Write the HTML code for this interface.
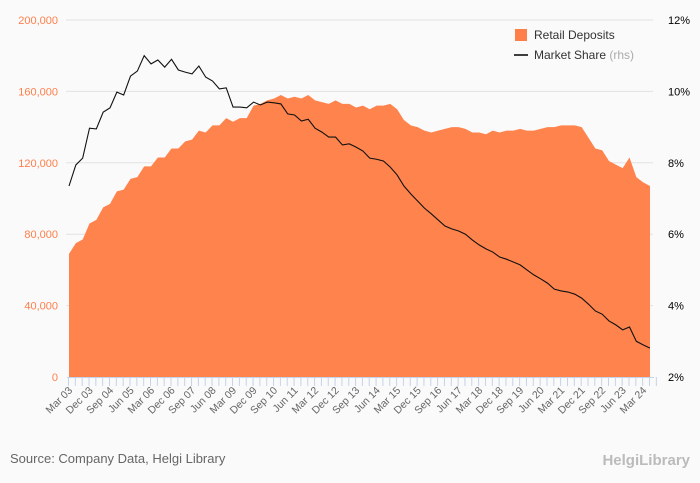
<!DOCTYPE html>
<html><head><meta charset="utf-8"><style>
body{margin:0;background:#fafafa;font-family:"Liberation Sans",sans-serif;}
svg{display:block}
</style></head><body>
<svg width="700" height="483" id="c">
<rect width="700" height="483" fill="#fafafa"/>
<g id="grid"></g><g id="area"></g><g id="line"></g><g id="axes"></g>
<g>
<rect x="515" y="29" width="12" height="12" fill="#ff7f4a"/>
<text x="534" y="39" font-size="12" fill="#333">Retail Deposits</text>
<line x1="514" y1="55" x2="528" y2="55" stroke="#000" stroke-width="1.5"/>
<text x="534" y="59" font-size="12" fill="#333">Market Share <tspan fill="#aaa">(rhs)</tspan></text>
</g>
<text x="10" y="463" font-size="13" fill="#666">Source: Company Data, Helgi Library</text>
<text x="690" y="465" font-size="15" fill="#bbb" text-anchor="end" font-weight="bold">HelgiLibrary</text>
</svg>
<script>
const quarters=["Mar","Jun","Sep","Dec"];
const deposits=[69000,75000,77000,86000,88000,95000,97000,104000,105000,111000,112000,118000,118000,123000,123000,128000,128000,132000,133000,138000,137000,141000,141000,145000,143000,145000,145000,152000,153000,155000,156000,158000,156000,157000,156000,158000,155000,154000,153000,155000,153000,153000,151000,152000,150000,152000,152000,153000,150000,144000,141000,140000,138000,137000,138000,139000,140000,140000,139000,137000,137000,136000,138000,137000,138000,138000,139000,138000,138000,139000,140000,140000,141000,141000,141000,140000,134000,128000,127000,121000,119000,117000,123000,112000,109000,107000];
const share=[7.35,7.94,8.13,8.97,8.95,9.42,9.54,9.98,9.9,10.43,10.57,11.0,10.77,10.88,10.68,10.9,10.6,10.54,10.49,10.71,10.4,10.29,10.07,10.1,9.56,9.56,9.54,9.7,9.62,9.7,9.68,9.65,9.37,9.34,9.17,9.22,8.97,8.86,8.72,8.72,8.5,8.53,8.44,8.33,8.13,8.1,8.05,7.88,7.66,7.35,7.13,6.93,6.73,6.57,6.4,6.23,6.15,6.09,6.0,5.84,5.7,5.59,5.5,5.36,5.3,5.22,5.14,5.0,4.86,4.75,4.63,4.46,4.41,4.38,4.32,4.21,4.04,3.85,3.76,3.57,3.46,3.32,3.4,3.0,2.9,2.81];
const leftTicks=[0,40000,80000,120000,160000,200000];
const rightTicks=[2,4,6,8,10,12];
const NS="http://www.w3.org/2000/svg";
const x0=69,x1=650,yT=20,yB=377;
const n=deposits.length;
const X=i=>x0+(x1-x0)*i/(n-1);
const YL=v=>yB-(v/200000)*(yB-yT);
const YR=v=>yB-((v-2)/10)*(yB-yT);
function mk(t,a,p){const e=document.createElementNS(NS,t);for(const k in a)e.setAttribute(k,a[k]);p.appendChild(e);return e;}
const grid=document.getElementById('grid'),axes=document.getElementById('axes');
leftTicks.forEach((v,i)=>{
 if(v>0){const g=mk('line',{x1:x0-3,x2:x1+3,y1:YL(v),y2:YL(v),stroke:'#e2e2e2'},grid);
 
 }
 const t=mk('text',{x:58,y:YL(v)+4,'font-size':11,fill:'#ff7f4a','text-anchor':'end'},axes);
 t.textContent=v.toLocaleString('en-US');
 
 
});
rightTicks.forEach(v=>{
 const t=mk('text',{x:668,y:YR(v)+4,'font-size':11,fill:'#000'},axes);
 t.textContent=v+'%';
 
 
});
let d='M'+X(0)+','+yB;
deposits.forEach((v,i)=>{d+=' L'+X(i)+','+YL(v);});
d+=' L'+X(n-1)+','+yB+' Z';
const a=mk('path',{d:d,fill:'#ff834d'},document.getElementById('area'));


const l=mk('polyline',{points:share.map((v,i)=>X(i)+','+YR(v)).join(' '),fill:'none',stroke:'#111','stroke-width':1.1},document.getElementById('line'));


const ax=mk('line',{x1:x0-2,x2:x1+4,y1:yB+0.5,y2:yB+0.5,stroke:'#c5d3ea'},axes);


for(let i=0;i<=n;i++){
 const xx=x0+(x1-x0)*i/(n-1)-0.5;
 const tk=mk('line',{x1:xx,x2:xx,y1:yB,y2:yB+9,stroke:'#c5d3ea'},axes);
 
 
}
for(let i=0;i<n;i+=3){
 const lab=quarters[i%4]+' '+String(3+Math.floor(i/4)).padStart(2,'0');
 const tx=X(i)+4,ty=yB+14;
 const t=mk('text',{x:tx,y:ty,'font-size':10.5,fill:'#666','text-anchor':'end',transform:'rotate(-45 '+tx+' '+ty+')'},axes);
 t.textContent=lab;
 
 
}
</script>
</body></html>
